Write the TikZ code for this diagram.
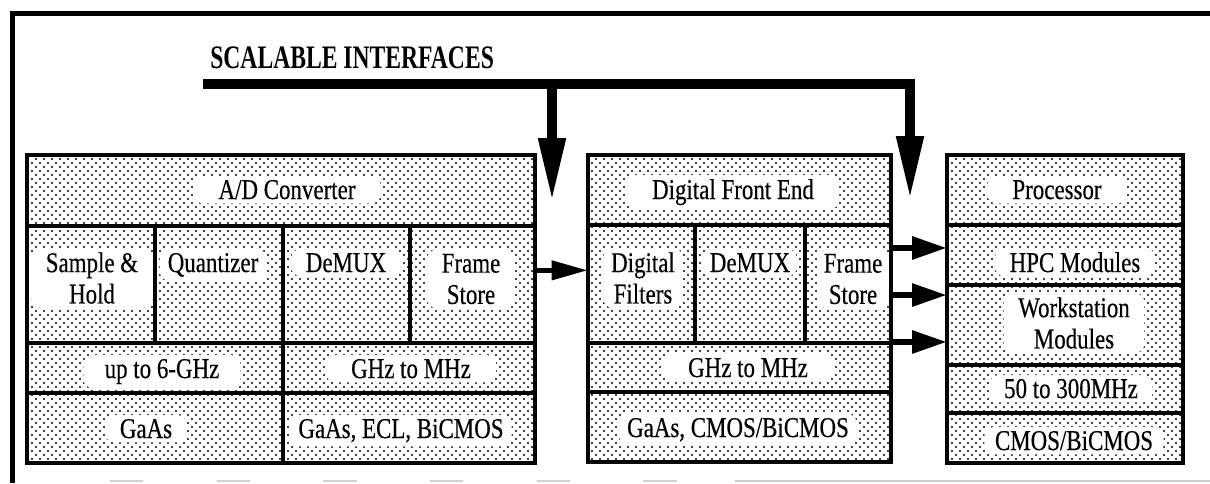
\documentclass[tikz,border=0pt]{standalone}
\usepackage{fontspec}
\newfontfamily\labfont{Liberation Serif}[FakeStretch=0.8, FakeBold=0.35]
\newfontfamily\ttlfont{Liberation Serif}[FakeStretch=0.72]
\usetikzlibrary{arrows.meta,patterns}
\pgfdeclarepatternformonly{stip}{\pgfqpoint{-1pt}{-1pt}}{\pgfqpoint{4.5pt}{4.5pt}}{\pgfqpoint{6pt}{6pt}}{%
  \pgfpathcircle{\pgfqpoint{0pt}{0pt}}{0.85pt}%
  \pgfpathcircle{\pgfqpoint{3pt}{3pt}}{0.85pt}%
  \pgfusepath{fill}}
\begin{document}
\begin{tikzpicture}[x=0.75pt,y=-0.75pt,
  blockfill/.style={rectangle, inner sep=0pt, pattern=stip, pattern color=black},
  blockline/.style={line width=3pt, line join=miter},
  divider/.style={line width=2.4pt},
  lab/.style={fill=white, rounded corners=7pt, inner xsep=11pt, inner ysep=3pt, align=center,
    font=\labfont\fontsize{21.5}{23.5}\selectfont},
  widelab/.style={lab, inner xsep=19pt},
  bus/.style={line width=7.5pt, line join=miter, -{Triangle[length=48pt,width=19pt]}},
  harrow/.style={line width=3.75pt, -{Triangle[length=27pt,width=14pt]}},
  harrowb/.style={line width=4.5pt, -{Triangle[length=26pt,width=16.5pt]}}]
\useasboundingbox (0,0) rectangle (1210,483);
% outer frame
\draw[line width=3.75pt, line join=miter] (1210,13) -- (12,13) -- (12,483);
\draw[gray!35, line width=1.2pt, dash pattern=on 25pt off 55pt] (110,481) -- (700,481);
\draw[gray!40, line width=1.2pt] (735,481) -- (1210,481);
% title
\node[anchor=base west, inner sep=0pt, font=\ttlfont\bfseries\fontsize{24.6}{28}\selectfont] (title) at (210,68) {SCALABLE INTERFACES};
% blocks (stipple)
\node[blockfill, minimum width=381pt, minimum height=231pt] (L) at (281,309) {};
\node[blockfill, minimum width=227.25pt, minimum height=230.25pt] (M) at (739.5,308.5) {};
\node[blockfill, minimum width=177pt, minimum height=231pt] (R) at (1065,309) {};
% labels, left block
\node[widelab, anchor=base] (adc) at (287,199) {A/D Converter};
\node[lab, anchor=center] (sh) at (92,278) {Sample \&\\Hold};
\node[lab, anchor=base, inner xsep=6pt] (quant) at (213,272) {Quantizer};
\node[lab, anchor=base] (ldemux) at (346,272) {DeMUX};
\node[lab, anchor=center] (lfs) at (471,279) {Frame\\Store};
\node[lab, anchor=base, inner xsep=16pt] (l6g) at (162,378) {up to 6-GHz};
\node[widelab, anchor=base] (lghz) at (411,378) {GHz to MHz};
\node[lab, anchor=base] (lgaas) at (146,438) {GaAs};
\node[lab, anchor=base, inner xsep=6pt] (ltech) at (401,438) {GaAs, ECL, BiCMOS};
% labels, middle block
\node[widelab, anchor=base] (dfe) at (733,199) {Digital Front End};
\node[lab, anchor=center, inner xsep=6pt] (dfilt) at (643,278) {Digital\\Filters};
\node[lab, anchor=base, inner xsep=5pt] (mdemux) at (750,272) {DeMUX};
\node[lab, anchor=center, inner xsep=5pt] (mfs) at (853,279) {Frame\\Store};
\node[widelab, anchor=base] (mghz) at (748,377) {GHz to MHz};
\node[lab, anchor=base, inner xsep=6pt] (mtech) at (738,437) {GaAs, CMOS/BiCMOS};
% labels, right block
\node[widelab, anchor=base] (proc) at (1057,199) {Processor};
\node[lab, anchor=base] (hpc) at (1075,272) {HPC Modules};
\node[lab, anchor=center] (ws) at (1074,323) {Workstation\\Modules};
\node[lab, anchor=base] (mhz) at (1071,398) {50 to 300MHz};
\node[lab, anchor=base, inner xsep=8pt] (rtech) at (1074,450) {CMOS/BiCMOS};
% block borders and dividers
\draw[blockline] (L.north west) rectangle (L.south east);
\draw[blockline] (M.north west) rectangle (M.south east);
\draw[blockline] (R.north west) rectangle (R.south east);
\draw[divider] (27,226) -- (535,226) (27,343) -- (535,343) (27,393) -- (535,393)
  (155,226) -- (155,343) (283,226) -- (283,463) (410,226) -- (410,343);
\draw[divider] (588,225) -- (891,225) (588,343) -- (891,343) (588,392) -- (891,392)
  (695,225) -- (695,343) (805,225) -- (805,343);
\draw[divider] (947,225) -- (1183,225) (947,285) -- (1183,285) (947,365) -- (1183,365) (947,413) -- (1183,413);
% scalable interface bus
\coordinate (busstart) at (203,84);
\coordinate (busmid) at (552,84);
\coordinate (tipa) at (552,202);
\coordinate (busend) at (910,84);
\coordinate (tipb) at (910,200);
\draw[bus] (busstart) -- (busend) -- (tipb);
\draw[bus] (busmid) -- (tipa);
% data arrows
\draw[harrow] ([yshift=29pt]L.east) -- ([yshift=29pt]L.east -| M.west);
\draw[harrowb] ([yshift=45.4pt]M.east) -- ([yshift=45.4pt]M.east -| R.west);
\draw[harrowb] ([yshift=10.1pt]M.east) -- ([yshift=10.1pt]M.east -| R.west);
\draw[harrowb] ([yshift=-25.1pt]M.east) -- ([yshift=-25.1pt]M.east -| R.west);
\end{tikzpicture}
\end{document}
